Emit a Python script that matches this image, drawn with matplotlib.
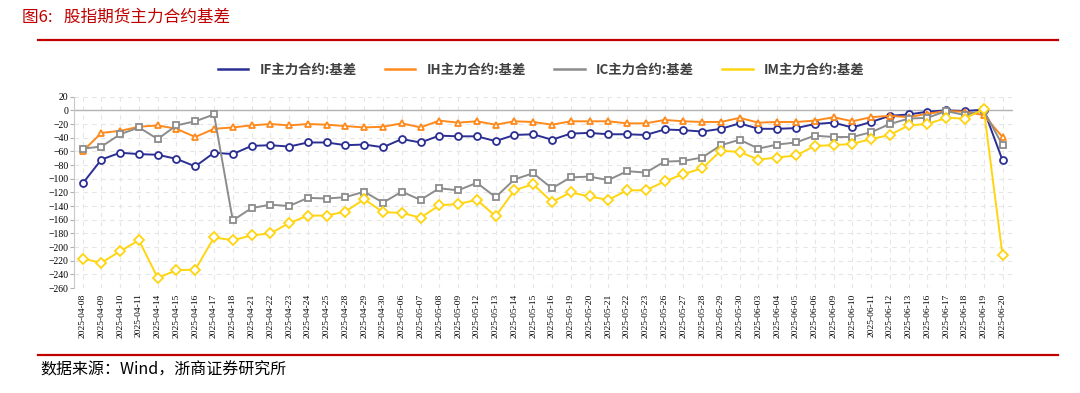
import matplotlib
matplotlib.use("Agg")
import matplotlib.pyplot as plt
from matplotlib.lines import Line2D

plt.rcParams['font.family'] = ['Noto Sans CJK SC', 'DejaVu Sans']

dates = ['2025-04-08', '2025-04-09', '2025-04-10', '2025-04-11', '2025-04-14',
         '2025-04-15', '2025-04-16', '2025-04-17', '2025-04-18', '2025-04-21',
         '2025-04-22', '2025-04-23', '2025-04-24', '2025-04-25', '2025-04-28',
         '2025-04-29', '2025-04-30', '2025-05-06', '2025-05-07', '2025-05-08',
         '2025-05-09', '2025-05-12', '2025-05-13', '2025-05-14', '2025-05-15',
         '2025-05-16', '2025-05-19', '2025-05-20', '2025-05-21', '2025-05-22',
         '2025-05-23', '2025-05-26', '2025-05-27', '2025-05-28', '2025-05-29',
         '2025-05-30', '2025-06-03', '2025-06-04', '2025-06-05', '2025-06-06',
         '2025-06-09', '2025-06-10', '2025-06-11', '2025-06-12', '2025-06-13',
         '2025-06-16', '2025-06-17', '2025-06-18', '2025-06-19', '2025-06-20']

# basis of each main contract
if_basis = [-107, -72, -62, -64, -65, -71, -82, -62, -64, -52,
            -51, -53, -47, -47, -51, -50, -54, -42, -47, -37,
            -38, -38, -45, -36, -35, -43, -34, -33, -35, -35,
            -36, -28, -29, -31, -27, -19, -27, -27, -26, -20,
            -18, -25, -17, -8, -6, -2, 0, -1, 1, -73]
ih_basis = [-60, -33, -30, -24, -22, -27, -39, -27, -25, -22,
            -20, -22, -20, -21, -23, -25, -24, -19, -25, -15,
            -18, -16, -21, -16, -17, -21, -16, -16, -16, -19,
            -19, -14, -16, -17, -17, -11, -18, -17, -17, -15,
            -10, -16, -10, -8, -10, -5, -1, -2, -7, -39]
ic_basis = [-56, -53, -35, -25, -42, -22, -16, -6, -161, -143,
            -138, -140, -128, -129, -127, -119, -135, -119, -131, -114,
            -117, -106, -127, -101, -92, -114, -98, -97, -102, -89,
            -91, -75, -74, -69, -51, -43, -56, -50, -47, -37,
            -39, -39, -32, -20, -12, -11, -1, -7, 0, -51]
im_basis = [-217, -223, -206, -190, -245, -234, -233, -186, -190, -183,
            -180, -165, -154, -154, -148, -130, -149, -150, -157, -139,
            -137, -131, -155, -117, -108, -134, -120, -126, -131, -117,
            -117, -104, -93, -85, -59, -61, -72, -69, -66, -52,
            -51, -49, -42, -36, -22, -20, -11, -12, 2, -212]

labels = ['IF主力合约:基差', 'IH主力合约:基差', 'IC主力合约:基差', 'IM主力合约:基差']
colors = ['#2B2E92', '#FF8A1C', '#8C8C8C', '#FFD511']
markers = ['o', '^', 's', 'D']
series = [if_basis, ih_basis, ic_basis, im_basis]

fig = plt.figure(figsize=(10.8, 3.93), dpi=100)
ax = fig.add_axes([0.0685, 0.267, 0.8695, 0.487])

x = list(range(len(dates)))
for vals, c, m in zip(series, colors, markers):
    ax.plot(x, vals, color=c, lw=1.4, marker=m, ms=5 if m != 'D' else 4.6,
            mfc='white', mec=c, mew=1.3, zorder=3)

ax.axhline(0, color='#b4b4b4', lw=1.0, zorder=2)
ax.set_ylim(-260, 20)
ax.set_xlim(-0.46, 49.56)
ax.set_yticks(range(-260, 21, 20))
ax.set_xticks(x)
ax.set_xticklabels(dates, rotation=90, fontsize=6.8, family='Liberation Serif')
for t in ax.get_yticklabels():
    t.set_family('Liberation Serif')
ax.tick_params(axis='y', labelsize=7, length=3, color='#b0b0b0', pad=1)
ax.tick_params(axis='x', length=0, pad=4)
ax.grid(True, ls=(0, (4, 4)), color='#e6e6e6', lw=0.8)
for s in ['top', 'right', 'bottom']:
    ax.spines[s].set_visible(False)
ax.spines['left'].set_color('#c8c8c8')

handles = [Line2D([0], [0], color=c, lw=1.8) for c in colors]
fig.legend(handles, labels, loc='center', bbox_to_anchor=(0.501, 0.822), ncol=4,
           frameon=False, handlelength=2.3, handletextpad=0.85, columnspacing=2.1,
           labelcolor='#404040', prop={'weight': 'bold', 'size': 9.6})

# title and footer
fig.text(0.02, 0.955, '图6:   股指期货主力合约基差', color='#C00000', fontsize=12,
         va='center', ha='left')
fig.add_artist(Line2D([0.035, 0.98], [0.897, 0.897], color='#C00000', lw=1.6))
fig.add_artist(Line2D([0.035, 0.98], [0.096, 0.096], color='#C00000', lw=1.6))
fig.text(0.037, 0.058, '数据来源：Wind，浙商证券研究所', color='black', fontsize=11.5,
         va='center', ha='left')

fig.savefig('out.png', dpi=100)
